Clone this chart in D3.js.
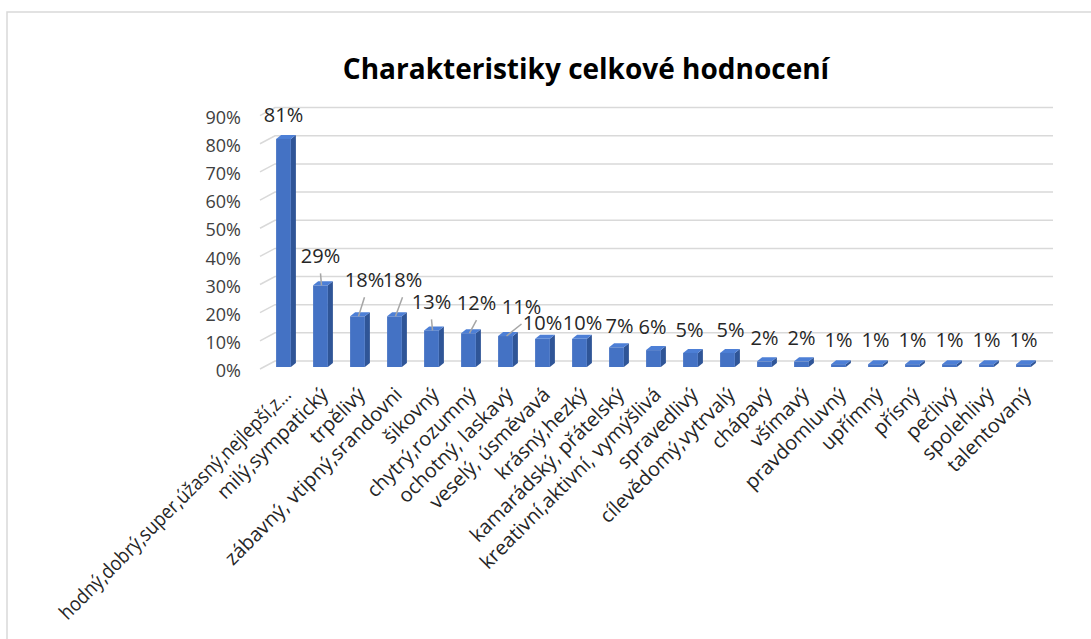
<!DOCTYPE html>
<html>
<head>
<meta charset="utf-8">
<script src="https://cdn.jsdelivr.net/npm/d3@7"></script>
<style>
  body { margin: 0; background: #fff; }
  svg text { font-family: "Open Sans", sans-serif; }
</style>
</head>
<body>
<div id="chart"></div>
<script>
// data
var categories = ["hodný,dobrý,super,úžasný,nejlepší,z...", "milý,sympatický", "trpělivý",
  "zábavný, vtipný,srandovni", "šikovný", "chytrý,rozumný", "ochotný, laskavý",
  "veselý, úsměvavá", "krásný,hezký", "kamarádský, přátelský", "kreativní,aktivní, vymýšlivá",
  "spravedlivý", "cílevědomý,vytrvalý", "chápavý", "všímavý", "pravdomluvný", "upřímný",
  "přísný", "pečlivý", "spolehlivý", "talentovaný"];
var values = [0.81, 0.29, 0.18, 0.18, 0.13, 0.12, 0.11, 0.10, 0.10, 0.07, 0.06, 0.05, 0.05,
  0.02, 0.02, 0.01, 0.01, 0.01, 0.01, 0.01, 0.01];
var yTicks = [0, 0.1, 0.2, 0.3, 0.4, 0.5, 0.6, 0.7, 0.8, 0.9];
var title = "Charakteristiky celkové hodnocení";

// data label nudges (layout only), like the moved labels in the original
var labelNudge = [[0,-24],[0,-29],[7,-36],[8,-36],[0,-28],[8,-30],[16,-29],[0,-16],[3,-16],
  [3,-21],[-1,-23],[-1,-23],[3,-23],[0,-23],[0,-23],[0,-24],[0,-24],[0,-24],[0,-24],[0,-24],[0,-24]];
var withLeader = [1, 2, 3, 4, 5, 6];

var width = 1091, height = 639;
var depthX = 5, depthY = 4;
var maxLabelLen = 318;

var svg = d3.select("#chart").append("svg")
    .attr("width", width)
    .attr("height", height);

// chart frame
svg.append("path")
    .attr("d", "M7," + height + "V12H" + width)
    .attr("fill", "none")
    .attr("stroke", "#d9d9d9")
    .attr("stroke-width", 1.5);

svg.append("text")
    .attr("x", 586)
    .attr("y", 79)
    .attr("text-anchor", "middle")
    .style("font-size", "28px")
    .style("font-weight", "bold")
    .style("fill", "#000")
    .text(title);

var x = d3.scaleBand()
    .domain(categories)
    .range([265, 1042])
    .paddingInner(0.6)
    .paddingOuter(0.3);

var y = d3.scaleLinear()
    .domain([0, 0.9])
    .range([367, 113.6]);

// back wall gridlines with the slanted floor edge
svg.append("g")
    .selectAll("path")
    .data(yTicks)
    .enter().append("path")
    .attr("d", function(d) {
        var yy = y(d);
        return "M260," + (yy + 2) + "L275," + (yy - 6) + "H1053";
    })
    .attr("fill", "none")
    .attr("stroke", "#d9d9d9")
    .attr("stroke-width", 1.5);

// y axis
var yAxis = svg.append("g")
    .attr("transform", "translate(241,4)")
    .call(d3.axisLeft(y).tickValues(yTicks).tickSize(0).tickPadding(0).tickFormat(d3.format(".0%")));
yAxis.select(".domain").remove();
yAxis.selectAll("text")
    .style("font-family", "Open Sans, sans-serif")
    .style("font-size", "18px")
    .style("fill", "#404040");

// 3d columns
var bars = svg.append("g")
    .selectAll("g")
    .data(values)
    .enter().append("g");

var bw = x.bandwidth();
var y0 = y(0);

bars.append("path")
    .attr("d", function(d, i) {
        var x1 = x(categories[i]) + bw, yt = y(d);
        return "M" + x1 + "," + yt + "L" + (x1 + depthX) + "," + (yt - depthY) +
            "L" + (x1 + depthX) + "," + (y0 - depthY) + "L" + x1 + "," + y0 + "Z";
    })
    .style("fill", "#2f5597");

bars.append("path")
    .attr("d", function(d, i) {
        var x0 = x(categories[i]), yt = y(d);
        return "M" + x0 + "," + yt + "L" + (x0 + depthX) + "," + (yt - depthY) +
            "L" + (x0 + bw + depthX) + "," + (yt - depthY) + "L" + (x0 + bw) + "," + yt + "Z";
    })
    .style("fill", "#4d7fd6");

bars.append("rect")
    .attr("x", function(d, i) { return x(categories[i]); })
    .attr("y", function(d) { return y(d); })
    .attr("width", bw)
    .attr("height", function(d) { return y0 - y(d); })
    .style("fill", "#4472c4");

// leader lines
svg.append("g")
    .selectAll("line")
    .data(withLeader)
    .enter().append("line")
    .attr("x1", function(i) { return x(categories[i]) + bw / 2 + labelNudge[i][0]; })
    .attr("y1", function(i) { return y(values[i]) + labelNudge[i][1] + 17; })
    .attr("x2", function(i) { return x(categories[i]) + bw / 2 + 1; })
    .attr("y2", function(i) { return y(values[i]); })
    .attr("stroke", "#a6a6a6")
    .attr("stroke-width", 1.5);

// data labels
svg.append("g")
    .selectAll("text")
    .data(values)
    .enter().append("text")
    .attr("x", function(d, i) { return x(categories[i]) + bw / 2 + labelNudge[i][0]; })
    .attr("y", function(d, i) { return y(d) + labelNudge[i][1]; })
    .attr("dy", "0.35em")
    .attr("text-anchor", "middle")
    .style("font-size", "20px")
    .style("fill", "#262626")
    .text(function(d) { return d3.format(".0%")(d); });

// category labels, rotated
svg.append("g")
    .selectAll("text")
    .data(categories)
    .enter().append("text")
    .attr("transform", function(d) {
        return "translate(" + (x(d) + bw / 2 + 4) + ",391)rotate(-45)";
    })
    .attr("dy", "0.35em")
    .attr("text-anchor", "end")
    .style("font-size", "20px")
    .style("fill", "#262626")
    .text(function(d) { return d; })
    .each(function() {
        // squeeze a label that would run off the bottom edge
        if (this.getComputedTextLength() > maxLabelLen) {
            d3.select(this)
                .attr("textLength", maxLabelLen)
                .attr("lengthAdjust", "spacingAndGlyphs");
        }
    });
</script>
</body>
</html>
